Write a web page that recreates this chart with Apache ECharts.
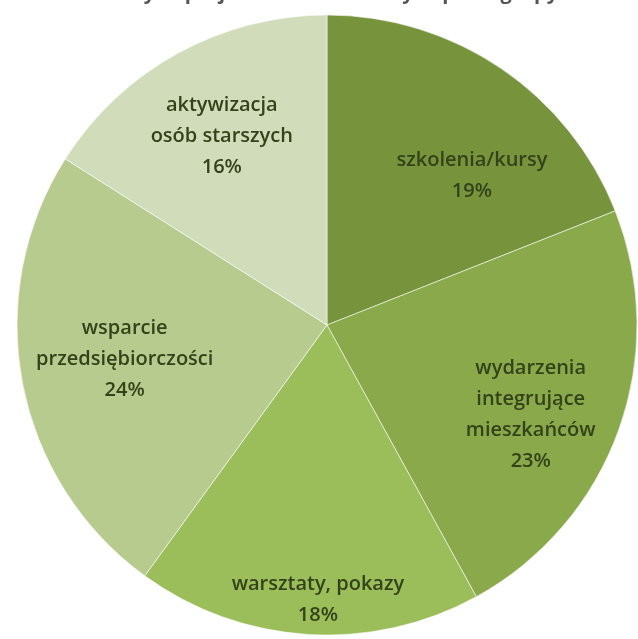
<!DOCTYPE html>
<html><head><meta charset="utf-8">
<script src="https://cdn.jsdelivr.net/npm/echarts@6/dist/echarts.min.js"></script>
<style>html,body{margin:0;padding:0;background:#fff}#c{width:638px;height:639px}</style>
</head><body><div id="c"></div>
<script>
const categories = ['szkolenia/kursy', 'wydarzenia\nintegrujące\nmieszkańców', 'warsztaty, pokazy', 'wsparcie\nprzedsiębiorczości', 'aktywizacja\nosób starszych'];
const values = [19, 23, 18, 24, 16];
const titleText = 'Tematyka projektów realizowanych przez grupy';

const colors = ['#77933c', '#8aa94a', '#9bbd5a', '#b6cb8d', '#d1ddba'];
const labelOffsets = [[28, 23], [8, 19], [4, 67], [2, -5], [-5, -6]];

const center = [327, 325];
const chart = echarts.init(document.getElementById('c'), null, {renderer: 'canvas'});
chart.setOption({
  animation: false,
  title: {
    text: titleText, left: 'center', top: -22,
    textStyle: {fontFamily: 'Open Sans', fontSize: 20, fontWeight: 'bold', color: '#555'}
  },
  series: [
    {
      type: 'pie', center: center, radius: [0, 310], startAngle: 90, clockwise: true,
      label: {show: false}, labelLine: {show: false}, silent: true,
      itemStyle: {borderColor: 'rgba(255,255,255,0.55)', borderWidth: 1},
      data: categories.map((n, i) => ({name: n, value: values[i], itemStyle: {color: colors[i]}}))
    },
    {
      type: 'pie', center: center, radius: [100, 310], startAngle: 90, clockwise: true,
      silent: true, labelLine: {show: false},
      itemStyle: {color: 'rgba(0,0,0,0)'},
      label: {
        show: true, position: 'inside',
        formatter: p => p.name + '\n' + p.value + '%',
        fontFamily: 'Open Sans', fontSize: 20, fontWeight: 600, lineHeight: 31, color: '#34421a', align: 'center'
      },
      data: categories.map((n, i) => ({name: n, value: values[i], label: {offset: labelOffsets[i]}}))
    }
  ]
});
</script></body></html>
